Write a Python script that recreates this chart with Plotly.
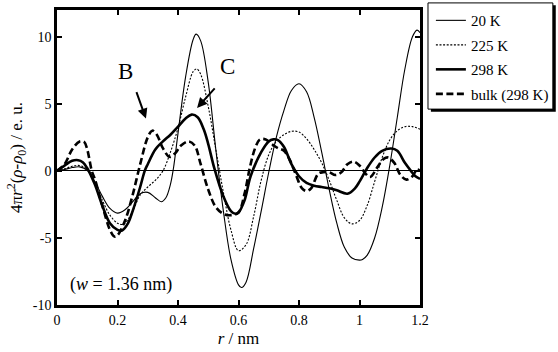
import plotly.graph_objects as go

# ---- data ----
r_20 = [0, 0.025, 0.05, 0.075, 0.1, 0.125, 0.15, 0.175, 0.2, 0.225, 0.25, 0.275, 0.3, 0.325,
        0.345, 0.36, 0.375, 0.385, 0.4, 0.425, 0.45, 0.46, 0.475, 0.5, 0.525, 0.55, 0.575,
        0.6, 0.61, 0.625, 0.65, 0.675, 0.7, 0.725, 0.75, 0.775, 0.8, 0.825, 0.85, 0.875, 0.9,
        0.925, 0.95, 0.975, 1.0, 1.01, 1.025, 1.05, 1.075, 1.1, 1.125, 1.15, 1.175, 1.19, 1.2]
v_20 = [0, 0.1, 0.25, 0.3, 0.05, -0.8, -1.9, -2.8, -3.15, -2.9, -2.3, -1.7, -1.6, -2.0,
        -2.3, -2.0, -1.0, 0.2, 2.8, 7.0, 9.8, 10.2, 9.7, 6.6, 1.6, -3.0, -6.6,
        -8.5, -8.7, -8.3, -5.8, -3.0, -0.1, 2.5, 4.5, 6.0, 6.5, 5.9, 4.0, 1.4, -1.4,
        -3.9, -5.7, -6.5, -6.65, -6.6, -6.3, -5.0, -2.7, 0.4, 4.0, 7.6, 10.0, 10.5, 10.3]

r_225 = [0, 0.025, 0.05, 0.075, 0.1, 0.125, 0.15, 0.175, 0.2, 0.215, 0.225, 0.25, 0.275,
         0.3, 0.325, 0.35, 0.375, 0.4, 0.425, 0.45, 0.462, 0.475, 0.5, 0.525, 0.55, 0.575,
         0.6, 0.625, 0.65, 0.675, 0.7, 0.725, 0.75, 0.775, 0.8, 0.825, 0.85, 0.875, 0.9,
         0.925, 0.95, 0.975, 1.0, 1.025, 1.05, 1.075, 1.1, 1.125, 1.15, 1.175, 1.2]
v_225 = [0, 0.15, 0.35, 0.4, 0.1, -0.9, -2.2, -3.3, -3.9, -4.0, -3.9, -3.0, -1.8,
         -1.2, -0.7, 0.0, 1.4, 3.2, 5.5, 7.4, 7.6, 7.2, 4.8, 1.6, -1.6, -4.4,
         -5.95, -5.5, -3.4, -0.7, 1.2, 2.2, 2.7, 2.95, 2.9, 2.4, 1.6, 0.6, -0.7,
         -2.2, -3.5, -3.95, -3.7, -2.6, -0.8, 1.0, 2.3, 3.0, 3.3, 3.3, 3.1]

r_298 = [0, 0.025, 0.05, 0.07, 0.085, 0.1, 0.125, 0.15, 0.175, 0.2, 0.215, 0.235, 0.25,
         0.275, 0.29, 0.3, 0.325, 0.35, 0.375, 0.4, 0.425, 0.445, 0.465, 0.485, 0.5, 0.52,
         0.55, 0.575, 0.59, 0.6, 0.62, 0.64, 0.675, 0.7, 0.715, 0.73, 0.75, 0.775, 0.8,
         0.825, 0.85, 0.875, 0.9, 0.925, 0.96, 0.985, 1.0, 1.025, 1.05, 1.075, 1.105,
         1.125, 1.15, 1.17, 1.185, 1.2]
v_298 = [0, 0.4, 0.75, 0.8, 0.65, 0.2, -1.0, -2.6, -3.9, -4.4, -4.45, -3.9, -3.0,
         -1.2, 0.0, 0.5, 1.6, 2.2, 2.7, 3.3, 3.9, 4.2, 4.0, 3.1, 2.0, 0.2,
         -1.9, -3.0, -3.2, -3.1, -2.2, -0.4, 1.4, 2.2, 2.35, 2.3, 1.8, 0.5, -0.4,
         -0.9, -1.1, -1.2, -1.3, -1.45, -1.7, -1.3, -0.8, 0.2, 1.0, 1.5, 1.67,
         1.5, 0.6, 0.0, -0.4, -0.6]

r_bulk = [0, 0.025, 0.05, 0.075, 0.09, 0.1, 0.115, 0.125, 0.15, 0.175, 0.19, 0.2, 0.225,
          0.25, 0.275, 0.3, 0.315, 0.33, 0.35, 0.372, 0.39, 0.41, 0.435, 0.455, 0.475,
          0.5, 0.525, 0.55, 0.575, 0.6, 0.62, 0.638, 0.655, 0.671, 0.69, 0.71, 0.73, 0.75,
          0.77, 0.79, 0.81, 0.825, 0.84, 0.864, 0.88, 0.9, 0.92, 0.94, 0.96, 0.98, 1.0,
          1.02, 1.035, 1.06, 1.08, 1.095, 1.115, 1.135, 1.155, 1.175, 1.19, 1.2]
v_bulk = [0, 0.5, 1.6, 2.2, 2.15, 1.6, 0.0, -0.6, -2.6, -4.4, -4.9, -4.8, -3.7,
          -1.8, 0.5, 2.5, 3.0, 2.7, 1.7, 1.05, 1.3, 1.9, 2.2, 1.9, 0.5,
          -1.4, -2.7, -3.2, -3.3, -3.1, -1.7, 0.3, 1.7, 2.35, 2.35, 2.0, 1.7, 1.5,
          0.8, -0.3, -1.3, -1.5, -1.3, -0.2, -0.1, -0.1, -0.3, -0.1, 0.5, 0.7, 0.4,
          -0.2, -0.45, 0.3, 0.9, 1.0, 0.6, -0.3, -0.65, -0.4, 0.1, 0.0]

x_ticks = [0, 0.2, 0.4, 0.6, 0.8, 1.0, 1.2]
x_ticklabels = ["0", "0.2", "0.4", "0.6", "0.8", "1", "1.2"]
y_ticks = [-10, -5, 0, 5, 10]
y_ticklabels = ["-10", "-5", "0", "5", "10"]

series = [
    ("20 K", r_20, v_20, dict(color="black", width=1.1, dash="solid")),
    ("225 K", r_225, v_225, dict(color="black", width=1.1, dash="2px,1.6px")),
    ("298 K", r_298, v_298, dict(color="black", width=2.6, dash="solid")),
    ("bulk (298 K)", r_bulk, v_bulk, dict(color="black", width=2.6, dash="7px,3.5px")),
]

FONT = "Liberation Serif"

fig = go.Figure()
for i, (name, xs, ys, ln) in enumerate(series):
    ln = dict(ln)
    ln["shape"] = "spline"
    ln["smoothing"] = 1.0
    fig.add_trace(go.Scatter(x=xs, y=ys, mode="lines", name=name, line=ln,
                             legendgroup=f"g{i}"))

# legend frame with shadow (paper coordinates)
fig.add_shape(type="rect", xref="paper", yref="paper", x0=1.030, x1=1.374, y0=0.655, y1=1.016,
              fillcolor="black", line=dict(width=0), layer="above")
fig.add_shape(type="rect", xref="paper", yref="paper", x0=1.022, x1=1.366, y0=0.664, y1=1.024,
              fillcolor="white", line=dict(color="black", width=1), layer="above")

fig.add_annotation(x=0.225, y=7.4, text="B", showarrow=False, font=dict(family=FONT, size=23, color="black"))
fig.add_annotation(x=0.565, y=7.8, text="C", showarrow=False, font=dict(family=FONT, size=23, color="black"))
fig.add_annotation(x=0.294, y=3.9, ax=-10, ay=-28, text="", showarrow=True, arrowhead=2,
                   arrowsize=1, arrowwidth=2, arrowcolor="black")
fig.add_annotation(x=0.463, y=4.7, ax=19, ay=-21, text="", showarrow=True, arrowhead=2,
                   arrowsize=1, arrowwidth=2, arrowcolor="black")
fig.add_annotation(x=0.035, y=-8.5, xanchor="left", text="(<i>w</i> = 1.36 nm)", showarrow=False,
                   font=dict(family=FONT, size=18, color="black"))

fig.update_layout(
    width=558, height=352,
    margin=dict(l=57, r=138, t=10, b=47, autoexpand=False),
    paper_bgcolor="white", plot_bgcolor="white",
    font=dict(family=FONT, size=14, color="black"),
    showlegend=True,
    legend=dict(x=1.030, y=1.02, xanchor="left", yanchor="top", bgcolor="rgba(0,0,0,0)",
                borderwidth=0, font=dict(family=FONT, size=15, color="black"),
                tracegroupgap=2, itemwidth=30),
    xaxis=dict(range=[0, 1.2], tickvals=x_ticks, ticktext=x_ticklabels, ticks="inside",
               ticklen=5, tickwidth=1.5, tickcolor="black", showline=True, linecolor="black",
               linewidth=2.5, mirror="ticks", showgrid=False, zeroline=False, automargin=False,
               title=dict(text="<i>r</i> / nm", standoff=6),
               tickfont=dict(family=FONT, size=14)),
    yaxis=dict(range=[-10, 12], tickvals=y_ticks, ticktext=y_ticklabels, ticks="inside",
               ticklen=5, tickwidth=1.5, tickcolor="black", showline=True, linecolor="black",
               linewidth=2.5, mirror="ticks", showgrid=False, zeroline=True, automargin=False,
               zerolinecolor="black", zerolinewidth=1,
               title=dict(text="4π<i>r</i><sup>2</sup>(<i>ρ</i>-<i>ρ</i><sub>0</sub>) / e. u.", standoff=6),
               tickfont=dict(family=FONT, size=14)),
)

fig.write_html("out.html")
